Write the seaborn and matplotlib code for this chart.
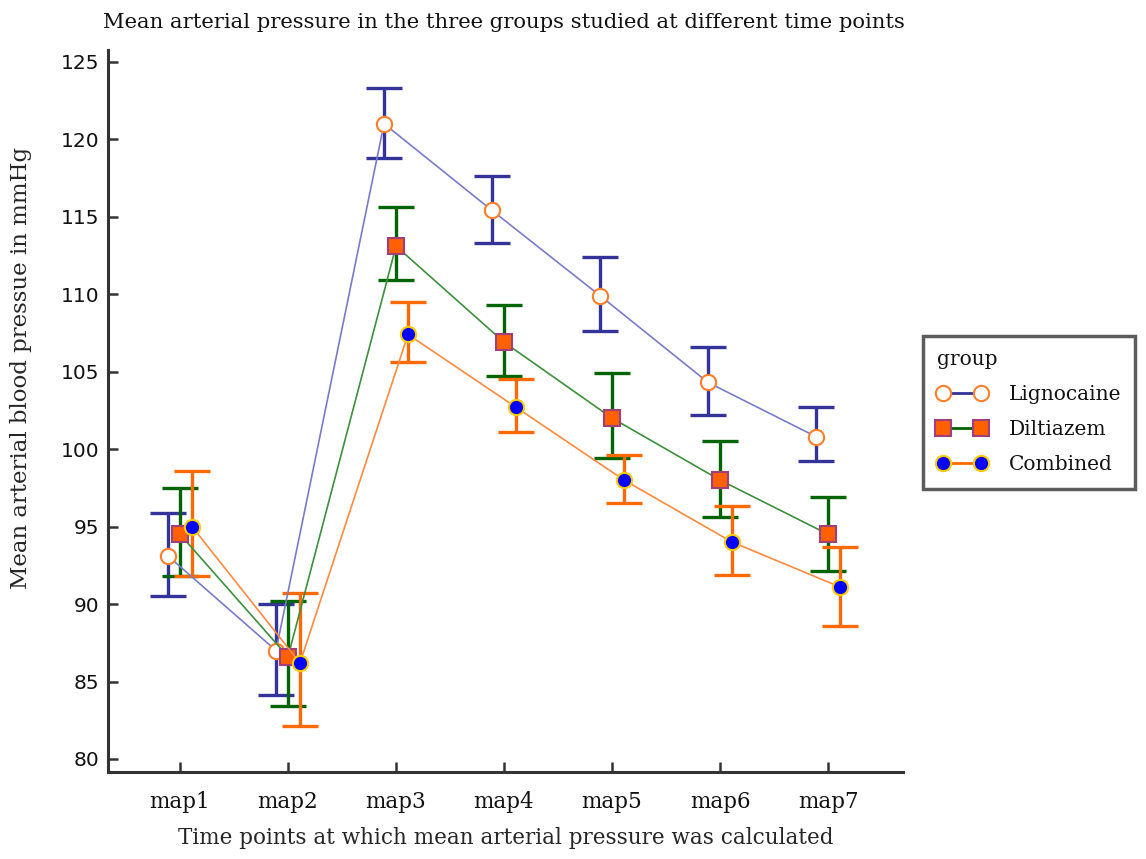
import numpy as np
import pandas as pd
import matplotlib
matplotlib.use("Agg")
import matplotlib.pyplot as plt
import seaborn as sns
from matplotlib.lines import Line2D

# values
time_points = ["map1", "map2", "map3", "map4", "map5", "map6", "map7"]
groups = ["Lignocaine", "Diltiazem", "Combined"]

ligno_mean = [93.1, 87.0, 121.0, 115.4, 109.9, 104.3, 100.8]
ligno_low = [90.5, 84.1, 118.8, 113.3, 107.6, 102.2, 99.2]
ligno_high = [95.9, 90.0, 123.3, 117.6, 112.4, 106.6, 102.7]

dilt_mean = [94.5, 86.6, 113.1, 106.9, 102.0, 98.0, 94.5]
dilt_low = [91.8, 83.4, 110.9, 104.7, 99.4, 95.6, 92.1]
dilt_high = [97.5, 90.2, 115.6, 109.3, 104.9, 100.5, 96.9]

comb_mean = [95.0, 86.2, 107.4, 102.7, 98.0, 94.0, 91.1]
comb_low = [91.8, 82.1, 105.6, 101.1, 96.5, 91.9, 88.6]
comb_high = [98.6, 90.7, 109.5, 104.5, 99.6, 96.3, 93.7]

rows = []
for g, m, lo, hi in zip(groups,
                        [ligno_mean, dilt_mean, comb_mean],
                        [ligno_low, dilt_low, comb_low],
                        [ligno_high, dilt_high, comb_high]):
    for i, t in enumerate(time_points):
        rows.append({"group": g, "time": t, "idx": i, "mean": m[i], "low": lo[i], "high": hi[i]})
df = pd.DataFrame(rows)

sns.set_theme(style="ticks")
plt.rcParams["font.family"] = ["DejaVu Serif"]
plt.rcParams["text.color"] = "#111111"

# style per group: offset, error colour, line colour, marker, face, edge
styles = {
    "Lignocaine": (-0.111, "#33339a", "#7a7ac8", "o", "white", "#ff7f2a"),
    "Diltiazem": (0.0, "#006400", "#3d8f3d", "s", "#ff6000", "#a0407a"),
    "Combined": (0.111, "#ff6a00", "#ff8a40", "o", "#0000ff", "#ffcc00"),
}

fig = plt.figure(figsize=(11.46, 8.59), dpi=100)
ax = fig.add_axes([0.0942, 0.1013, 0.788 - 0.0942, 0.942 - 0.1013])

handles = []
for g in groups:
    off, ecol, lcol, mk, fc, ec = styles[g]
    sub = df[df.group == g].copy()
    sub["x"] = sub["idx"] + off
    ax.errorbar(sub["x"], sub["mean"],
                yerr=[sub["mean"] - sub["low"], sub["high"] - sub["mean"]],
                fmt="none", ecolor=ecol, elinewidth=2.4, capsize=13, capthick=2.4, zorder=2)
    sns.lineplot(data=sub, x="x", y="mean", ax=ax, color=lcol, linewidth=1.2,
                 marker=mk, markersize=11 if mk == "o" else 11.5,
                 markerfacecolor=fc, markeredgecolor=ec, markeredgewidth=1.5,
                 zorder=3, legend=False)
    handles.append(Line2D([0], [0], color=ecol, linewidth=2, marker=mk,
                          markersize=11, markerfacecolor=fc, markeredgecolor=ec,
                          markeredgewidth=1.5))

ax.set_xlim(-0.667, 6.694)
ax.set_ylim(79.16, 125.77)
ax.set_xticks(range(len(time_points)))
ax.set_xticklabels(time_points, fontsize=15.5, color="#111111")
ax.set_yticks(np.arange(80, 126, 5))
ax.set_yticklabels([str(v) for v in range(80, 126, 5)], fontsize=14.5,
                   family="DejaVu Sans", color="#111111")
ax.tick_params(axis="both", length=7, width=1.8, color="#333333", direction="in")
ax.tick_params(axis="x", pad=14)
ax.tick_params(axis="y", pad=6)
for s in ["left", "bottom"]:
    ax.spines[s].set_linewidth(2.2)
    ax.spines[s].set_color("#333333")
sns.despine(ax=ax)

ax.set_xlabel("Time points at which mean arterial pressure was calculated", fontsize=15.5, labelpad=10)
ax.set_ylabel("Mean arterial blood pressue in mmHg", fontsize=16.5)
ax.yaxis.set_label_coords(-0.095, 0.56)
fig.text(0.44, 0.974, "Mean arterial pressure in the three groups studied at different time points",
         ha="center", va="center", fontsize=15.2, color="#111111")

leg = fig.legend(handles, groups, title="group", loc="center left",
                 bbox_to_anchor=(0.7965, 0.520), numpoints=2, handlelength=2.5,
                 fontsize=14.5, title_fontsize=14.5, frameon=True, fancybox=False,
                 borderpad=0.7, labelspacing=0.8, handletextpad=1.05)
leg._legend_box.align = "left"
leg.get_frame().set_edgecolor("#333333")
leg.get_frame().set_linewidth(2.5)

fig.savefig("out.png", dpi=100)
